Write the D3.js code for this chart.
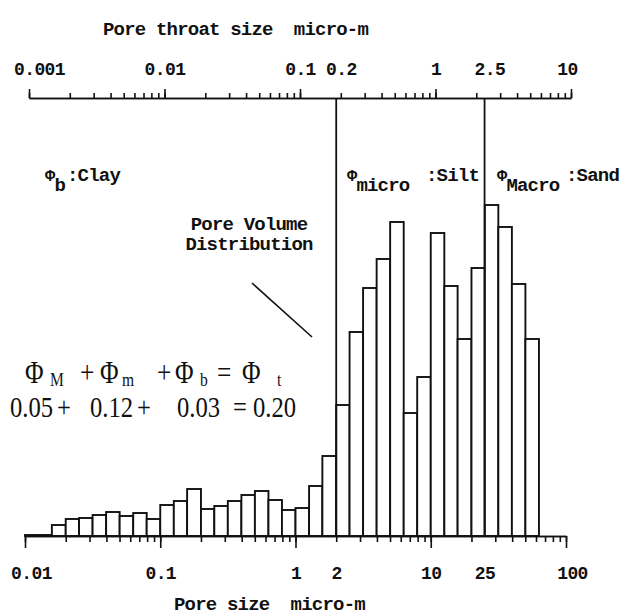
<!DOCTYPE html>
<html>
<head>
<meta charset="utf-8">
<script src="https://cdn.jsdelivr.net/npm/d3@7"></script>
<style>
  body { margin: 0; background: #fff; }
  svg { display: block; }
  .mono { font-family: "Liberation Mono", "DejaVu Sans Mono", monospace; font-weight: bold; fill: #111; font-size: 19px; letter-spacing: -0.8px; }
  .tick-label { font-size: 18px; letter-spacing: -0.6px; }
  .serif { font-family: "Liberation Serif", "DejaVu Serif", serif; fill: #111; font-size: 30px; }
  .axis path, .axis line { stroke: #111; stroke-width: 1.6; }
  .bar { fill: #fff; stroke: #111; stroke-width: 1.9; }
</style>
</head>
<body>
<svg id="chart" width="624" height="616"></svg>
<script>
// pore size bins (micro-m), 10 bins per decade
var binEdges = [0.01, 0.0126, 0.0158, 0.02, 0.0251, 0.0316, 0.0398, 0.0501, 0.0631, 0.0794,
  0.1, 0.126, 0.158, 0.2, 0.251, 0.316, 0.398, 0.501, 0.631, 0.794,
  1, 1.26, 1.58, 2, 2.51, 3.16, 3.98, 5.01, 6.31, 7.94,
  10, 12.6, 15.8, 20, 25.1, 31.6, 39.8, 50.1, 63.1];
// relative pore volume per bin (arbitrary units)
var poreVolume = [1, 1, 11, 17, 18, 21, 24, 20, 23, 17,
  31, 35, 47, 27, 30, 35, 41, 45, 36, 26,
  28, 50, 80, 131, 204, 248, 277, 314, 123, 159,
  303, 250, 197, 268, 331, 309, 252, 197];

var bottomMajor = [0.01, 0.1, 1, 10, 100];
var bottomLabels = [[0.01, '0.01'], [0.1, '0.1'], [1, '1'], [2, '2'], [10, '10'], [25, '25'], [100, '100']];
var topMajor = [0.001, 0.01, 0.1, 1, 10];
var topLabels = [[0.001, '0.001'], [0.01, '0.01'], [0.1, '0.1'], [0.2, '0.2'], [1, '1'], [2.5, '2.5'], [10, '10']];
var cutoffs = [2, 25]; // clay/micro and micro/Macro limits on pore size

var svg = d3.select('#chart');
var baseY = 536, topY = 98;

var x = d3.scaleLog().domain([0.01, 100]).range([25, 566]);
var xTop = d3.scaleLog().domain([0.001, 10]).range([29, 571]);
var y = d3.scaleLinear().domain([0, 340]).range([baseY, baseY - 340]);

// histogram bars
svg.append('g').selectAll('rect').data(poreVolume).join('rect')
  .attr('class', 'bar')
  .attr('x', (d, i) => x(binEdges[i]))
  .attr('width', (d, i) => x(binEdges[i + 1]) - x(binEdges[i]))
  .attr('y', d => y(d))
  .attr('height', d => baseY - y(d));

// class boundaries
svg.append('g').selectAll('line').data(cutoffs).join('line')
  .attr('x1', d => x(d)).attr('x2', d => x(d))
  .attr('y1', topY).attr('y2', baseY)
  .attr('stroke', '#111').attr('stroke-width', 1.8);

// end labels sit a bit inward in the original plot
function nudge(first, last) {
  return (d, i, nodes) => i == 0 ? first : (i == nodes.length - 1 ? last : 0);
}

// bottom axis
var gB = svg.append('g').attr('transform', 'translate(0,' + baseY + ')');
gB.append('g').attr('class', 'axis')
  .call(d3.axisBottom(x).tickValues(x.ticks()).tickSize(6).tickFormat('').tickSizeOuter(0));
gB.append('g').attr('class', 'axis')
  .call(d3.axisBottom(x).tickValues(bottomMajor).tickSize(12).tickFormat('').tickSizeOuter(0));
gB.append('g')
  .call(d3.axisBottom(x).tickValues(bottomLabels.map(d => d[0])).tickSize(0).tickPadding(43)
    .tickFormat((d, i) => bottomLabels[i][1]))
  .call(g => g.select('.domain').remove())
  .selectAll('text').attr('class', 'mono tick-label').attr('dy', 0).attr('dx', nudge(6, 6));

// top axis
var gT = svg.append('g').attr('transform', 'translate(0,' + topY + ')');
gT.append('g').attr('class', 'axis')
  .call(d3.axisTop(xTop).tickValues(xTop.ticks()).tickSize(5).tickFormat('').tickSizeOuter(0));
gT.append('g').attr('class', 'axis')
  .call(d3.axisTop(xTop).tickValues(topMajor).tickSize(9).tickFormat('').tickSizeOuter(0));
gT.append('g')
  .call(d3.axisTop(xTop).tickValues(topLabels.map(d => d[0])).tickSize(0).tickPadding(23)
    .tickFormat((d, i) => topLabels[i][1]))
  .call(g => g.select('.domain').remove())
  .selectAll('text').attr('class', 'mono tick-label').attr('dy', 0).attr('dx', nudge(10, -4));

// axis titles
svg.append('text').attr('class', 'mono')
  .attr('x', 103).attr('y', 35).attr('xml:space', 'preserve').text('Pore throat size  micro-m');
svg.append('text').attr('class', 'mono')
  .attr('x', 174).attr('y', 610).attr('xml:space', 'preserve').text('Pore size  micro-m');

// porosity class labels
function phiLabel(px, sub, tail, tailX) {
  var t = svg.append('text').attr('class', 'mono').attr('x', px).attr('y', 181);
  t.append('tspan').style('font-size', '17px').text('\u03A6');
  t.append('tspan').attr('dy', 10).text(sub);
  t.append('tspan').attr('x', tailX).attr('y', 181).text(tail);
}
phiLabel(45, 'b', ':Clay', 67);
phiLabel(347, 'micro', ':Silt', 426);
phiLabel(497, 'Macro', ':Sand', 566);

// pore volume annotation
svg.append('text').attr('class', 'mono')
  .attr('x', 249).attr('y', 230).attr('text-anchor', 'middle').text('Pore Volume');
svg.append('text').attr('class', 'mono')
  .attr('x', 249).attr('y', 250).attr('text-anchor', 'middle').text('Distribution');
svg.append('line').attr('x1', 252).attr('y1', 283).attr('x2', 312).attr('y2', 337)
  .attr('stroke', '#111').attr('stroke-width', 1.6);

// porosity equation, typeset piece by piece (x, y, size, text)
var sx = 0.82;
var eqLines = [
  [[25, 383, 31, '\u03A6'], [50, 386, 19, 'M'], [80, 383, 31, '+'],
   [100, 383, 31, '\u03A6'], [122, 386, 19, 'm'], [157, 383, 31, '+'],
   [175, 383, 31, '\u03A6'], [200, 386, 19, 'b'], [217, 383, 31, '='],
   [242, 383, 31, '\u03A6'], [277, 386, 19, 't']],
  [[10, 417, 30, '0.05'], [57, 417, 30, '+'], [90, 417, 30, '0.12'], [137, 417, 30, '+'],
   [177, 417, 30, '0.03'], [233, 417, 30, '='], [253, 417, 30, '0.20']]
];
var eq = svg.append('g').attr('transform', 'scale(' + sx + ',1)');
eq.selectAll('text').data(eqLines).join('text')
  .attr('class', 'serif')
  .selectAll('tspan').data(d => d).join('tspan')
  .attr('x', d => d[0] / sx).attr('y', d => d[1])
  .style('font-size', d => d[2] + 'px')
  .text(d => d[3]);
</script>
</body>
</html>
